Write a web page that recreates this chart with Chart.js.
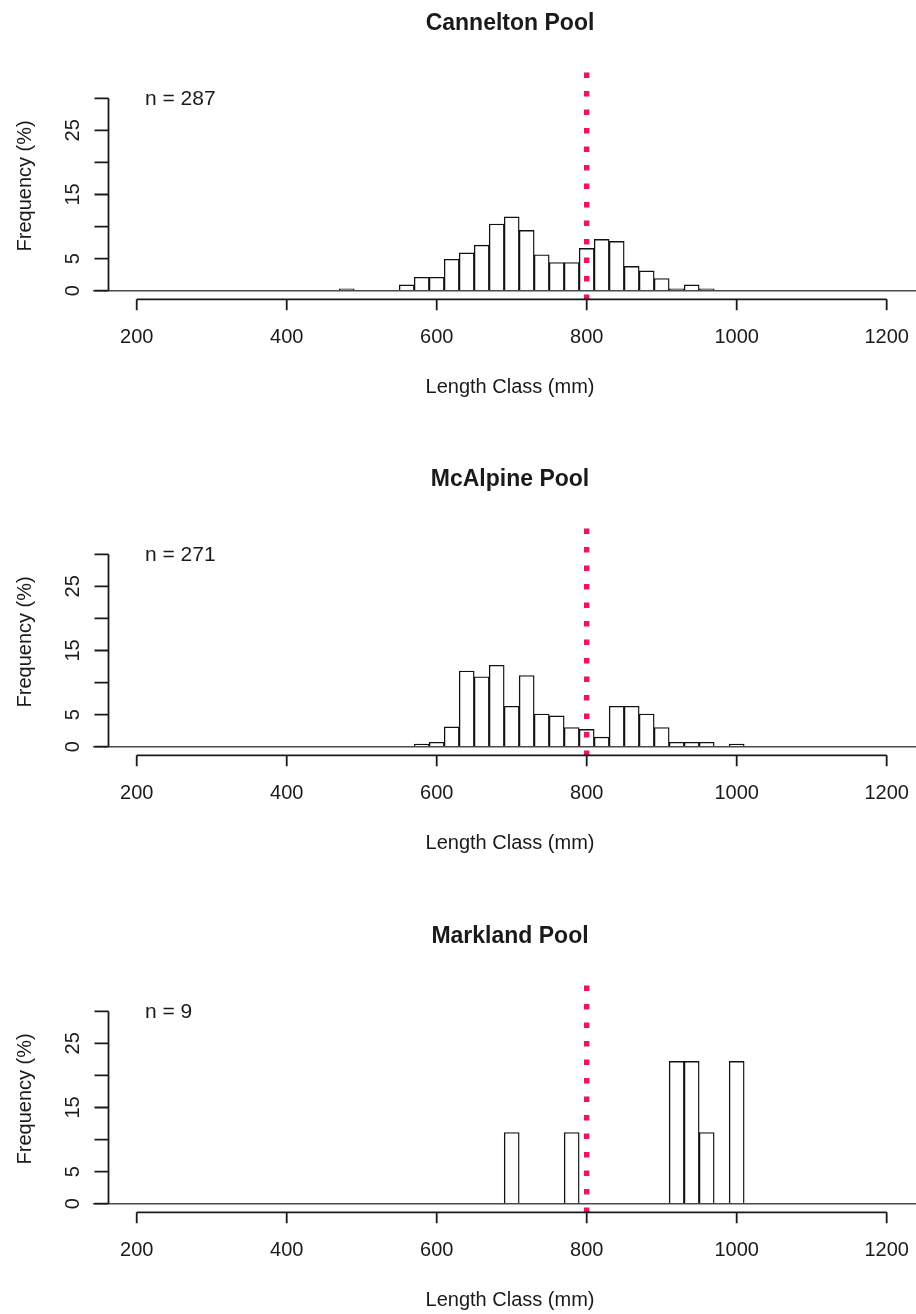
<!DOCTYPE html>
<html>
<head>
<meta charset="utf-8">
<script src="https://cdn.jsdelivr.net/npm/chart.js@4.4.0/dist/chart.umd.min.js"></script>
<style>
  html, body { margin: 0; padding: 0; background: #fff; }
  #wrap { position: relative; width: 916px; height: 1314px; overflow: hidden; }
  #wrap canvas { position: absolute; left: 0; }
</style>
</head>
<body>
<div id="wrap">
  <canvas id="c0" width="916" height="457" style="top:-56px"></canvas>
  <canvas id="c1" width="916" height="457" style="top:400px"></canvas>
  <canvas id="c2" width="916" height="457" style="top:857px"></canvas>
</div>
<script>
// data: length class centres (mm) and frequency (%)
const poolNames = ['Cannelton Pool', 'McAlpine Pool', 'Markland Pool'];
const sampleSizes = [287, 271, 9];

const canneltonClass = [480, 560, 580, 600, 620, 640, 660, 680, 700, 720, 740, 760, 780, 800, 820, 840, 860, 880, 900, 920, 940, 960];
const canneltonPct   = [0.3, 0.9, 2.1, 2.1, 4.9, 5.9, 7.1, 10.4, 11.5, 9.4, 5.6, 4.4, 4.4, 6.6, 8.0, 7.7, 3.8, 3.1, 1.9, 0.3, 0.9, 0.3];

const mcalpineClass = [580, 600, 620, 640, 660, 680, 700, 720, 740, 760, 780, 800, 820, 840, 860, 880, 900, 920, 940, 960, 1000];
const mcalpinePct   = [0.4, 0.7, 3.1, 11.8, 10.9, 12.7, 6.3, 11.1, 5.1, 4.8, 3.0, 2.7, 1.5, 6.3, 6.3, 5.1, 3.0, 0.7, 0.7, 0.7, 0.4];

const marklandClass = [700, 780, 920, 940, 960, 1000];
const marklandPct   = [11.1, 11.1, 22.2, 22.2, 11.1, 22.2];

const xTickValues = [200, 400, 600, 800, 1000, 1200];
const yTickValues = [0, 5, 10, 15, 20, 25, 30];
const yLabelValues = [0, 5, 15, 25];   // R drops the overlapping 10/20/30 labels
const referenceLength = 800;

const classes = [canneltonClass, mcalpineClass, marklandClass];
const percents = [canneltonPct, mcalpinePct, marklandPct];

const FONT = '"Liberation Sans", Arial, Helvetica, sans-serif';
const INK = '#1a1a1a';

function text(ctx, str, x, y, font, align, rot) {
  ctx.save();
  ctx.font = font;
  ctx.fillStyle = INK;
  ctx.textAlign = align || 'center';
  ctx.textBaseline = 'middle';
  ctx.translate(x, y);
  if (rot) ctx.rotate(rot);
  ctx.fillText(str, 0, 0);
  ctx.restore();
}

// R style axes, baseline and the dotted 800 mm line
const rAxes = {
  id: 'rAxes',
  afterDatasetsDraw(chart) {
    const { ctx, chartArea: a, scales: { x, y } } = chart;
    const y0 = y.getPixelForValue(0);
    ctx.save();
    ctx.strokeStyle = '#4a4a4a';
    ctx.lineWidth = 1.6;
    ctx.beginPath();
    ctx.moveTo(a.left, y0);
    ctx.lineTo(a.right, y0);
    ctx.stroke();

    const xr = x.getPixelForValue(referenceLength);
    ctx.strokeStyle = '#ee1558';
    ctx.lineWidth = 5.5;
    ctx.setLineDash([5.5, 13]);
    ctx.beginPath();
    ctx.moveTo(xr, a.top);
    ctx.lineTo(xr, a.bottom);
    ctx.stroke();
    ctx.restore();
  },
  afterDraw(chart, args, opts) {
    const { ctx, chartArea: a, scales: { x, y } } = chart;
    ctx.save();
    ctx.strokeStyle = INK;
    ctx.lineWidth = 1.8;

    // y axis
    const ax = a.left + 15.5;
    ctx.beginPath();
    ctx.moveTo(ax, y.getPixelForValue(yTickValues[0]));
    ctx.lineTo(ax, y.getPixelForValue(yTickValues[yTickValues.length - 1]));
    yTickValues.forEach(v => {
      const py = y.getPixelForValue(v);
      ctx.moveTo(ax, py);
      ctx.lineTo(ax - 14, py);
    });
    ctx.stroke();
    yLabelValues.forEach(v => {
      text(ctx, String(v), a.left - 20, y.getPixelForValue(v), '20px ' + FONT, 'center', -Math.PI / 2);
    });

    // x axis
    const ay = a.bottom;
    ctx.beginPath();
    ctx.moveTo(x.getPixelForValue(xTickValues[0]), ay);
    ctx.lineTo(x.getPixelForValue(xTickValues[xTickValues.length - 1]), ay);
    xTickValues.forEach(v => {
      const px = x.getPixelForValue(v);
      ctx.moveTo(px, ay);
      ctx.lineTo(px, ay + 11);
    });
    ctx.stroke();
    xTickValues.forEach(v => {
      text(ctx, String(v), x.getPixelForValue(v), ay + 38, '20px ' + FONT);
    });

    text(ctx, 'Length Class (mm)', a.left + 417, ay + 88, '20px ' + FONT);
    text(ctx, 'Frequency (%)', 25, (a.top + a.bottom) / 2, '20px ' + FONT, 'center', -Math.PI / 2);
    text(ctx, opts.title, a.left + 417, a.top - 49, 'bold 23px ' + FONT);
    text(ctx, 'n = ' + opts.n, a.left + 52, y.getPixelForValue(30) + 1, '21px ' + FONT, 'left');
    ctx.restore();
  }
};

poolNames.forEach((name, i) => {
  new Chart(document.getElementById('c' + i), {
    type: 'bar',
    data: {
      datasets: [{
        data: classes[i].map((c, k) => ({ x: c, y: percents[i][k] })),
        backgroundColor: '#fff',
        borderColor: '#111',
        borderWidth: 1.4,
        barPercentage: 1,
        categoryPercentage: 1
      }]
    },
    options: {
      responsive: false,
      animation: false,
      layout: { padding: { left: 93, right: 0, top: 128.5, bottom: 101.7 } },
      scales: {
        x: { type: 'linear', min: 141.7, max: 1239.1, offset: false, display: false },
        y: { type: 'linear', min: -1.34, max: 34.02, display: false }
      },
      plugins: {
        legend: { display: false },
        tooltip: { enabled: false },
        rAxes: { title: name, n: sampleSizes[i] }
      }
    },
    plugins: [rAxes]
  });
});
</script>
</body>
</html>
